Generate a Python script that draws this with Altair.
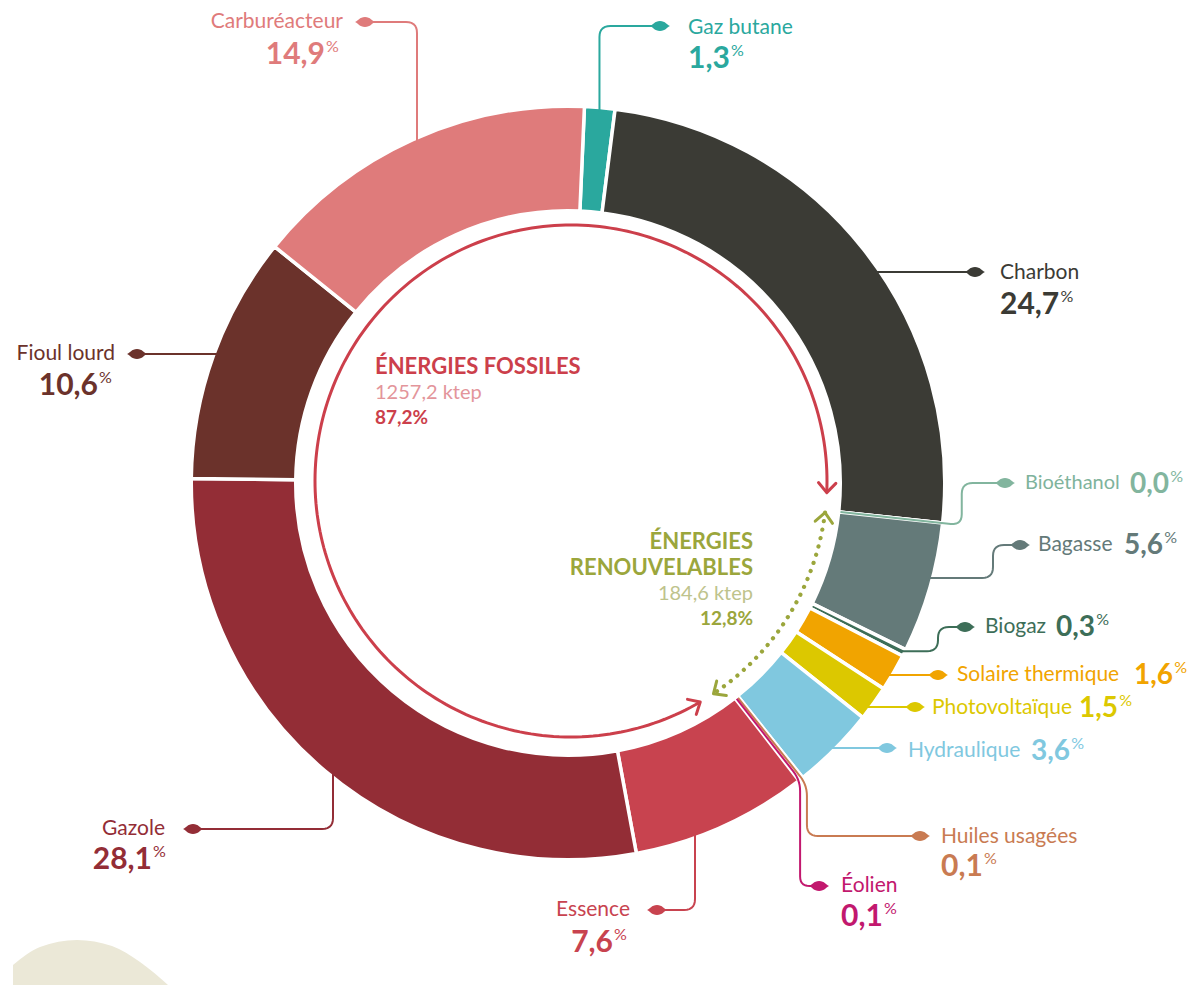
import math
import numpy as np
import pandas as pd
import altair as alt

W, H = 1198, 989
FONT = "Lato"

# ------------------------------------------------------------------ data
sources = ["Gaz butane", "Charbon", "Bioéthanol", "Bagasse", "Biogaz",
           "Solaire thermique", "Photovoltaïque", "Hydraulique",
           "Huiles usagées", "Éolien", "Essence", "Gazole", "Fioul lourd",
           "Carburéacteur"]
shares = [1.3, 24.7, 0.0, 5.6, 0.3, 1.6, 1.5, 3.6, 0.1, 0.1, 7.6, 28.1, 10.6, 14.9]
groups = ["F", "F", "R", "R", "R", "R", "R", "R", "R", "R", "F", "F", "F", "F"]
colors = ["#2aa89e", "#3b3b35", "#82b59e", "#647a79", "#3d6e58",
          "#f1a400", "#dcc800", "#80c8df", "#c97b52", "#c2186e",
          "#c8434f", "#932d36", "#6b322b", "#df7b7b"]
group_ktep = {"F": 1257.2, "R": 184.6}


def fr(v, nd=1):
    return f"{v:.{nd}f}".replace(".", ",")


# ------------------------------------------------------------------ geometry
CX, CY = 568, 483
R_OUT, R_IN = 375, 274
GAP = 3.5
START = math.radians(2.5)
total = sum(shares)
n = len(sources)
cum = np.concatenate([[0.0], np.cumsum(shares)])


def th(p):
    return START + p / total * 2 * math.pi


def pt(r, a, c=(CX, CY)):
    return (c[0] + r * math.sin(a), c[1] - r * math.cos(a))


def ring_x(y, side=1, r=R_OUT - 2):
    return CX + side * math.sqrt(r * r - (y - CY) ** 2)


def ring_y(x, side=1, r=R_OUT - 2):
    return CY + side * math.sqrt(r * r - (x - CX) ** 2)


def rounded(pts, rad=11, steps=8):
    out = [pts[0]]
    for i in range(1, len(pts) - 1):
        p0, p1, p2 = (np.array(pts[i - 1], float), np.array(pts[i], float),
                      np.array(pts[i + 1], float))
        d1, d2 = p1 - p0, p2 - p1
        l1, l2 = np.linalg.norm(d1), np.linalg.norm(d2)
        r = min(rad, l1 / 2, l2 / 2)
        a, b = p1 - d1 / l1 * r, p1 + d2 / l2 * r
        for t in np.linspace(0, 1, steps):
            q = (1 - t) ** 2 * a + 2 * (1 - t) * t * p1 + t ** 2 * b
            out.append((q[0], q[1]))
    out.append(pts[-1])
    return out


def mid(i):
    return cum[i] + shares[i] / 2


def digits_width(s, fs):
    # approximate advance of a number set in Lato Bold
    return sum((0.24 if ch == "," else 0.58) * fs for ch in s)


# leader paths, one per slice, ending at the marker
leaders = {}
a = pt(R_OUT - 2, th(mid(0)))
leaders[0] = [a, (a[0], 26), (660, 26)]
leaders[1] = [(ring_x(272), 272), (975, 272)]
a, b = pt(R_IN, th(cum[2])), pt(396, th(cum[2]))
leaders[2] = [a, b, (b[0], 483), (1005, 483)]
leaders[3] = [(ring_x(578), 578), (993, 578), (993, 545), (1020, 545)]
a = pt(R_OUT - 2, th(mid(4)))
leaders[4] = [a, (938, a[1]), (938, 627), (965, 627)]
leaders[5] = [(ring_x(675), 675), (938, 675)]
leaders[6] = [(ring_x(707), 707), (915, 707)]
leaders[7] = [(ring_x(748), 748), (887, 748)]
a, b = pt(R_IN, th(mid(8))), pt(R_OUT + 10, th(mid(8)))
leaders[8] = [a, b, (b[0], 836), (920, 836)]
a, b = pt(R_IN, th(mid(9))), pt(R_OUT + 2, th(mid(9)))
eol_x = b[0]
leaders[9] = [a, b, (b[0], 886), (eol_x + 19, 886)]
leaders[10] = [(695, ring_y(695)), (695, 910), (657, 910)]
leaders[11] = [(333, ring_y(333)), (333, 829), (193, 829)]
leaders[12] = [(ring_x(354, -1), 354), (137, 354)]
leaders[13] = [(417, ring_y(417, -1)), (417, 22), (365, 22)]

# label placement: name (x, y, align) and value (x, y)
name_pos = [(688, 28, "left"), (1000, 273, "left"), (1025, 483, "left"),
            (1038, 545, "left"), (985, 627, "left"), (957, 675, "left"),
            (932, 708, "left"), (908, 751, "left"), (941, 837, "left"),
            (eol_x + 41, 886, "left"), (630, 910, "right"), (165, 829, "right"),
            (115, 354, "right"), (343, 22, "right")]
value_pos = [(688, 59), (1000, 305), (1130, 485), (1124, 546), (1056, 628),
             (1134, 676), (1079, 709), (1031, 752), (941, 867), (eol_x + 41, 917),
             (613, 943), (152, 860), (98, 386), (325, 55)]
inline = [False, False, True, True, True, True, True, True, False, False,
          False, False, False, False]

# ------------------------------------------------------------------ tables
slices = pd.DataFrame({"source": sources, "share": shares, "idx": range(n)})

lead_rows, marker_rows = [], []
for i, path in leaders.items():
    pts = rounded(path)
    for k, (x, y) in enumerate(pts):
        lead_rows.append({"lid": sources[i], "k": k, "x": x, "y": y, "color": colors[i]})
    marker_rows.append({"x": path[-1][0], "y": path[-1][1], "color": colors[i]})
lead_df = pd.DataFrame(lead_rows)
marker_df = pd.DataFrame(marker_rows)

txt_rows = []
for i in range(n):
    nx, ny, al = name_pos[i]
    txt_rows.append({"x": nx, "y": ny, "text": sources[i], "color": colors[i],
                     "fs": 21 if i != 2 else 20, "al": al, "kind": "name"})
    vx, vy = value_pos[i]
    fs = 28 if inline[i] else 30
    label = fr(shares[i])
    txt_rows.append({"x": vx, "y": vy, "text": label, "color": colors[i],
                     "fs": fs, "al": al, "kind": "value"})
    px = vx + 1 if al == "right" else vx + digits_width(label, fs) + 1
    txt_rows.append({"x": px, "y": vy - 8, "text": "%", "color": colors[i],
                     "fs": 16, "al": "left", "kind": "pct"})
txt_df = pd.DataFrame(txt_rows)
txt_df.loc[txt_df["text"] == "Bioéthanol", "color"] = "#7fb39c"

# central captions
fossil_share = sum(s for s, g in zip(shares, groups) if g == "F")
renew_share = sum(s for s, g in zip(shares, groups) if g == "R")
FOS, FOS_L = "#cc3f4b", "#e3959b"
REN, REN_L = "#9ba63c", "#bec38c"
center_rows = [
    {"x": 375, "y": 367, "text": "ÉNERGIES FOSSILES", "color": FOS, "fs": 22, "w": "bold", "al": "left"},
    {"x": 375, "y": 393, "text": f"{fr(group_ktep['F'])} ktep", "color": FOS_L, "fs": 20, "w": "normal", "al": "left"},
    {"x": 375, "y": 418, "text": f"{fr(fossil_share)}%", "color": FOS, "fs": 19, "w": "bold", "al": "left"},
    {"x": 753, "y": 542, "text": "ÉNERGIES", "color": REN, "fs": 22, "w": "bold", "al": "right"},
    {"x": 753, "y": 568, "text": "RENOUVELABLES", "color": REN, "fs": 22, "w": "bold", "al": "right"},
    {"x": 753, "y": 594, "text": f"{fr(group_ktep['R'])} ktep", "color": REN_L, "fs": 20, "w": "normal", "al": "right"},
    {"x": 753, "y": 619, "text": f"{fr(renew_share)}%", "color": REN, "fs": 19, "w": "bold", "al": "right"},
]
center_df = pd.DataFrame(center_rows)

# double-headed arcs marking the two families
AC = (571, 481)
AR = 256
fos_a0 = th(cum[10]) + math.radians(7.5)
fos_a1 = th(cum[2]) + 2 * math.pi - math.radians(3.5)
ren_a0 = th(cum[2]) + math.radians(1.0)
ren_a1 = th(cum[10]) + math.radians(4.0)


def arc_pts(a0, a1, num=240):
    return [pt(AR, a, AC) for a in np.linspace(a0, a1, num)]


def chevron(a, direction, arm=13, spread=42):
    tip = np.array(pt(AR, a, AC))
    tx, ty = math.cos(a), math.sin(a)          # clockwise tangent
    d = np.array([tx, ty]) * direction
    pts = []
    for sgn in (1, -1):
        ang = math.radians(spread) * sgn
        rx = d[0] * math.cos(ang) - d[1] * math.sin(ang)
        ry = d[0] * math.sin(ang) + d[1] * math.cos(ang)
        pts.append(tip - arm * np.array([rx, ry]))
    return [tuple(pts[0]), tuple(tip), tuple(pts[1])]


def path_df(pts, lid, color):
    return pd.DataFrame({"lid": lid, "k": range(len(pts)),
                         "x": [p[0] for p in pts], "y": [p[1] for p in pts],
                         "color": color})


red_arc = path_df(arc_pts(fos_a0, fos_a1), "fos", FOS)
green_arc = path_df(arc_pts(ren_a0, ren_a1), "ren", REN)
heads = pd.concat([
    path_df(chevron(fos_a1, 1), "h1", FOS),
    path_df(chevron(fos_a0, -1), "h2", FOS),
    path_df(chevron(ren_a0, -1), "h3", REN),
    path_df(chevron(ren_a1, 1), "h4", REN),
])

# decorative hill in the lower-left corner
hill = pd.DataFrame({"x": [13, 40, 77, 112, 140, 168],
                     "y": [965, 947, 940, 946, 962, 985], "y2": 985})

# ------------------------------------------------------------------ chart
xs = alt.Scale(domain=[0, W], range=[0, W], nice=False, zero=False)
ys = alt.Scale(domain=[0, H], range=[0, H], nice=False, zero=False)
X = alt.X("x:Q", scale=xs, axis=None)
Y = alt.Y("y:Q", scale=ys, axis=None)

hill_layer = alt.Chart(hill).mark_area(color="#ebe8d7", interpolate="monotone").encode(
    x=X, y=Y, y2="y2:Q")

ring = alt.Chart(slices).mark_arc(
    outerRadius=R_OUT + GAP / 2, innerRadius=R_IN - GAP / 2,
    stroke="white", strokeWidth=GAP
).encode(
    theta=alt.Theta("share:Q", stack=True,
                    scale=alt.Scale(domain=[0, total], range=[START, START + 2 * math.pi])),
    color=alt.Color("source:N", scale=alt.Scale(domain=sources, range=colors), legend=None),
    order=alt.Order("idx:Q", sort="ascending"),
    x=alt.value(CX), y=alt.value(CY),
)

red_layer = alt.Chart(red_arc).mark_line(color=FOS, strokeWidth=3).encode(
    x=X, y=Y, order="k:Q")
green_layer = alt.Chart(green_arc).mark_line(
    color=REN, strokeWidth=4.2, strokeDash=[0.1, 8.5], strokeCap="round").encode(
    x=X, y=Y, order="k:Q")
head_layer = alt.Chart(heads).mark_line(strokeWidth=3, strokeCap="round", strokeJoin="round").encode(
    x=X, y=Y, order="k:Q", detail="lid:N", color=alt.Color("color:N", scale=None))

lead_layer = alt.Chart(lead_df).mark_line(strokeWidth=2, strokeJoin="round").encode(
    x=X, y=Y, order="k:Q", detail="lid:N", color=alt.Color("color:N", scale=None))

LEAF = ("M-1,0 C-0.7,-0.1 -0.55,-0.5 0,-0.5 C0.55,-0.5 0.7,-0.1 1,0 "
        "C0.7,0.1 0.55,0.5 0,0.5 C-0.55,0.5 -0.7,0.1 -1,0 Z")
marker_layer = alt.Chart(marker_df).mark_point(
    shape=LEAF, size=400, filled=True, opacity=1).encode(
    x=X, y=Y, color=alt.Color("color:N", scale=None))


def text_layer(df, align, weight):
    return alt.Chart(df).mark_text(
        align=align, baseline="middle", font=FONT, fontWeight=weight).encode(
        x=X, y=Y, text="text:N",
        color=alt.Color("color:N", scale=None), size=alt.Size("fs:Q", scale=None))


names = txt_df[txt_df["kind"] == "name"]
vals = txt_df[txt_df["kind"] == "value"]
pcts = txt_df[txt_df["kind"] == "pct"]
layers = [hill_layer, ring, red_layer, green_layer, head_layer, lead_layer, marker_layer,
          text_layer(names[names["al"] == "left"], "left", "normal"),
          text_layer(names[names["al"] == "right"], "right", "normal"),
          text_layer(vals[vals["al"] == "left"], "left", "bold"),
          text_layer(vals[vals["al"] == "right"], "right", "bold"),
          text_layer(pcts, "left", "normal")]
for al in ("left", "right"):
    for w in ("bold", "normal"):
        sub = center_df[(center_df["al"] == al) & (center_df["w"] == w)]
        if len(sub):
            layers.append(text_layer(sub, al, w))

chart = alt.layer(*layers).properties(
    width=W, height=H, padding=0, autosize="none", background="white"
).configure_view(stroke=None)

chart.save("out.html", embed_options={"renderer": "svg", "actions": False})
